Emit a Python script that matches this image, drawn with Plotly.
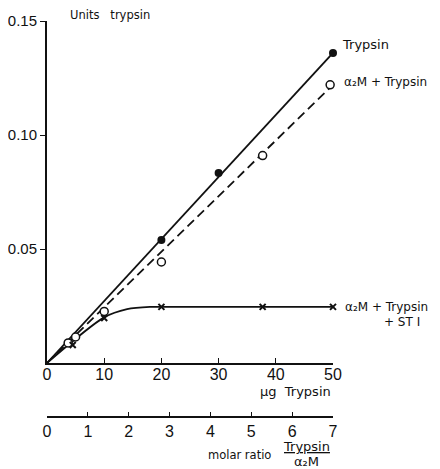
import plotly.graph_objects as go

# --- data ---
trypsin_x = [20, 30, 50]
trypsin_y = [0.054, 0.0833, 0.136]
trypsin_fit_x = [0, 50]
trypsin_fit_y = [0, 0.136]

a2m_x = [3.7, 5, 10, 20, 37.7, 49.5]
a2m_y = [0.0088, 0.0114, 0.0226, 0.0443, 0.091, 0.122]
a2m_fit_x = [0, 50]
a2m_fit_y = [0, 0.122]

sti_x = [4.5, 10, 20, 37.7, 50]
sti_y = [0.0079, 0.0197, 0.0246, 0.0246, 0.0246]
sti_fit_x = [0, 10, 14, 18, 20, 50]
sti_fit_y = [0, 0.0200, 0.0236, 0.0246, 0.0246, 0.0246]

x_ticks = [0, 10, 20, 30, 40, 50]
y_ticks = [0.05, 0.10, 0.15]
y_ticktext = ["0.05", "0.10", "0.15"]
molar_ticks = [0, 1, 2, 3, 4, 5, 6, 7]

FONT = "Liberation Sans, Arial, sans-serif"
LFONT = "DejaVu Sans, Verdana, sans-serif"
BLACK = "#111111"

# page body adds an 8px offset; layout in figure pixels
W, H = 440, 469
OFF = 8
PL, PR = 47 - OFF, 333 - OFF          # plot area left/right (figure px)
PT, PB = 21 - OFF, 417 - OFF          # plot area top/bottom (figure px)
XAXIS_Y = 363 - OFF                   # main x axis line
DOM0 = (PB - XAXIS_Y) / (PB - PT)


def px(x_screen):
    return (x_screen - OFF - PL) / (PR - PL)


def py(y_screen):
    return (PB - (y_screen - OFF)) / (PB - PT)


fig = go.Figure()

fig.add_trace(go.Scatter(x=trypsin_fit_x, y=trypsin_fit_y, mode="lines",
                         line=dict(color=BLACK, width=1.8), hoverinfo="skip", cliponaxis=False))
fig.add_trace(go.Scatter(x=a2m_fit_x, y=a2m_fit_y, mode="lines",
                         line=dict(color=BLACK, width=1.8, dash="9px,5px"), hoverinfo="skip", cliponaxis=False))
fig.add_trace(go.Scatter(x=sti_fit_x, y=sti_fit_y, mode="lines", line_shape="spline",
                         line=dict(color=BLACK, width=1.8, smoothing=0.8), hoverinfo="skip", cliponaxis=False))

fig.add_trace(go.Scatter(x=trypsin_x, y=trypsin_y, mode="markers", cliponaxis=False,
                         marker=dict(symbol="circle", size=8, color=BLACK)))
fig.add_trace(go.Scatter(x=a2m_x, y=a2m_y, mode="markers", cliponaxis=False,
                         marker=dict(symbol="circle", size=8, color="white",
                                     line=dict(color=BLACK, width=1.5))))
fig.add_trace(go.Scatter(x=sti_x, y=sti_y, mode="markers", cliponaxis=False,
                         marker=dict(symbol="x-thin", size=6, color=BLACK,
                                     line=dict(color=BLACK, width=2))))

# invisible trace to anchor the molar-ratio axis
fig.add_trace(go.Scatter(x=molar_ticks, y=[0] * len(molar_ticks), xaxis="x2", mode="markers",
                         marker=dict(opacity=0), hoverinfo="skip", showlegend=False))

fig.update_layout(
    width=W, height=H,
    margin=dict(l=PL, r=W - PR, t=PT, b=H - PB, autoexpand=False),
    paper_bgcolor="white", plot_bgcolor="white",
    showlegend=False,
    font=dict(family=FONT, size=13, color=BLACK),
    xaxis=dict(range=[0, 50], tickvals=x_ticks, ticks="inside", ticklen=5, tickwidth=1.2,
               tickcolor=BLACK, showline=True, linecolor=BLACK, linewidth=2,
               showgrid=False, zeroline=False, anchor="y", fixedrange=True,
               ticklabelstandoff=-4, tickfont=dict(size=16)),
    xaxis2=dict(range=[0, 7], tickvals=molar_ticks, ticks="inside", ticklen=4, tickwidth=1.2,
                tickcolor=BLACK, showline=True, linecolor=BLACK, linewidth=1.5,
                showgrid=False, zeroline=False, anchor="free", position=0,
                overlaying="x", side="bottom", fixedrange=True, tickfont=dict(size=16)),
    yaxis=dict(range=[0, 0.15], domain=[DOM0, 1], tickvals=y_ticks, ticktext=y_ticktext,
               ticks="outside", ticklen=5, tickwidth=1.2, tickcolor=BLACK,
               showline=True, linecolor=BLACK, linewidth=2, showgrid=False, zeroline=False,
               fixedrange=True, tickfont=dict(size=15)),
)


def label(text, xs, ys, anchor="left", size=12):
    fig.add_annotation(
        text=text, x=px(xs), y=py(ys), xref="paper", yref="paper",
        xanchor=anchor, yanchor="middle", showarrow=False,
        font=dict(family=LFONT, size=size, color=BLACK))


label("Units   trypsin", 68, 15, size=11.5)
label("Trypsin", 340, 45, size=13)
label("α₂M + Trypsin", 342, 82)
label("α₂M + Trypsin", 343, 307)
label("+ ST I", 382, 322)
label("μg  Trypsin", 333, 391, anchor="right", size=13)
label("molar ratio", 206, 455, size=11.5)
label("<u>Trypsin</u>", 306, 446, anchor="center", size=13)
label("α₂M", 306, 462, anchor="center", size=13)

fig.write_html("out.html")
